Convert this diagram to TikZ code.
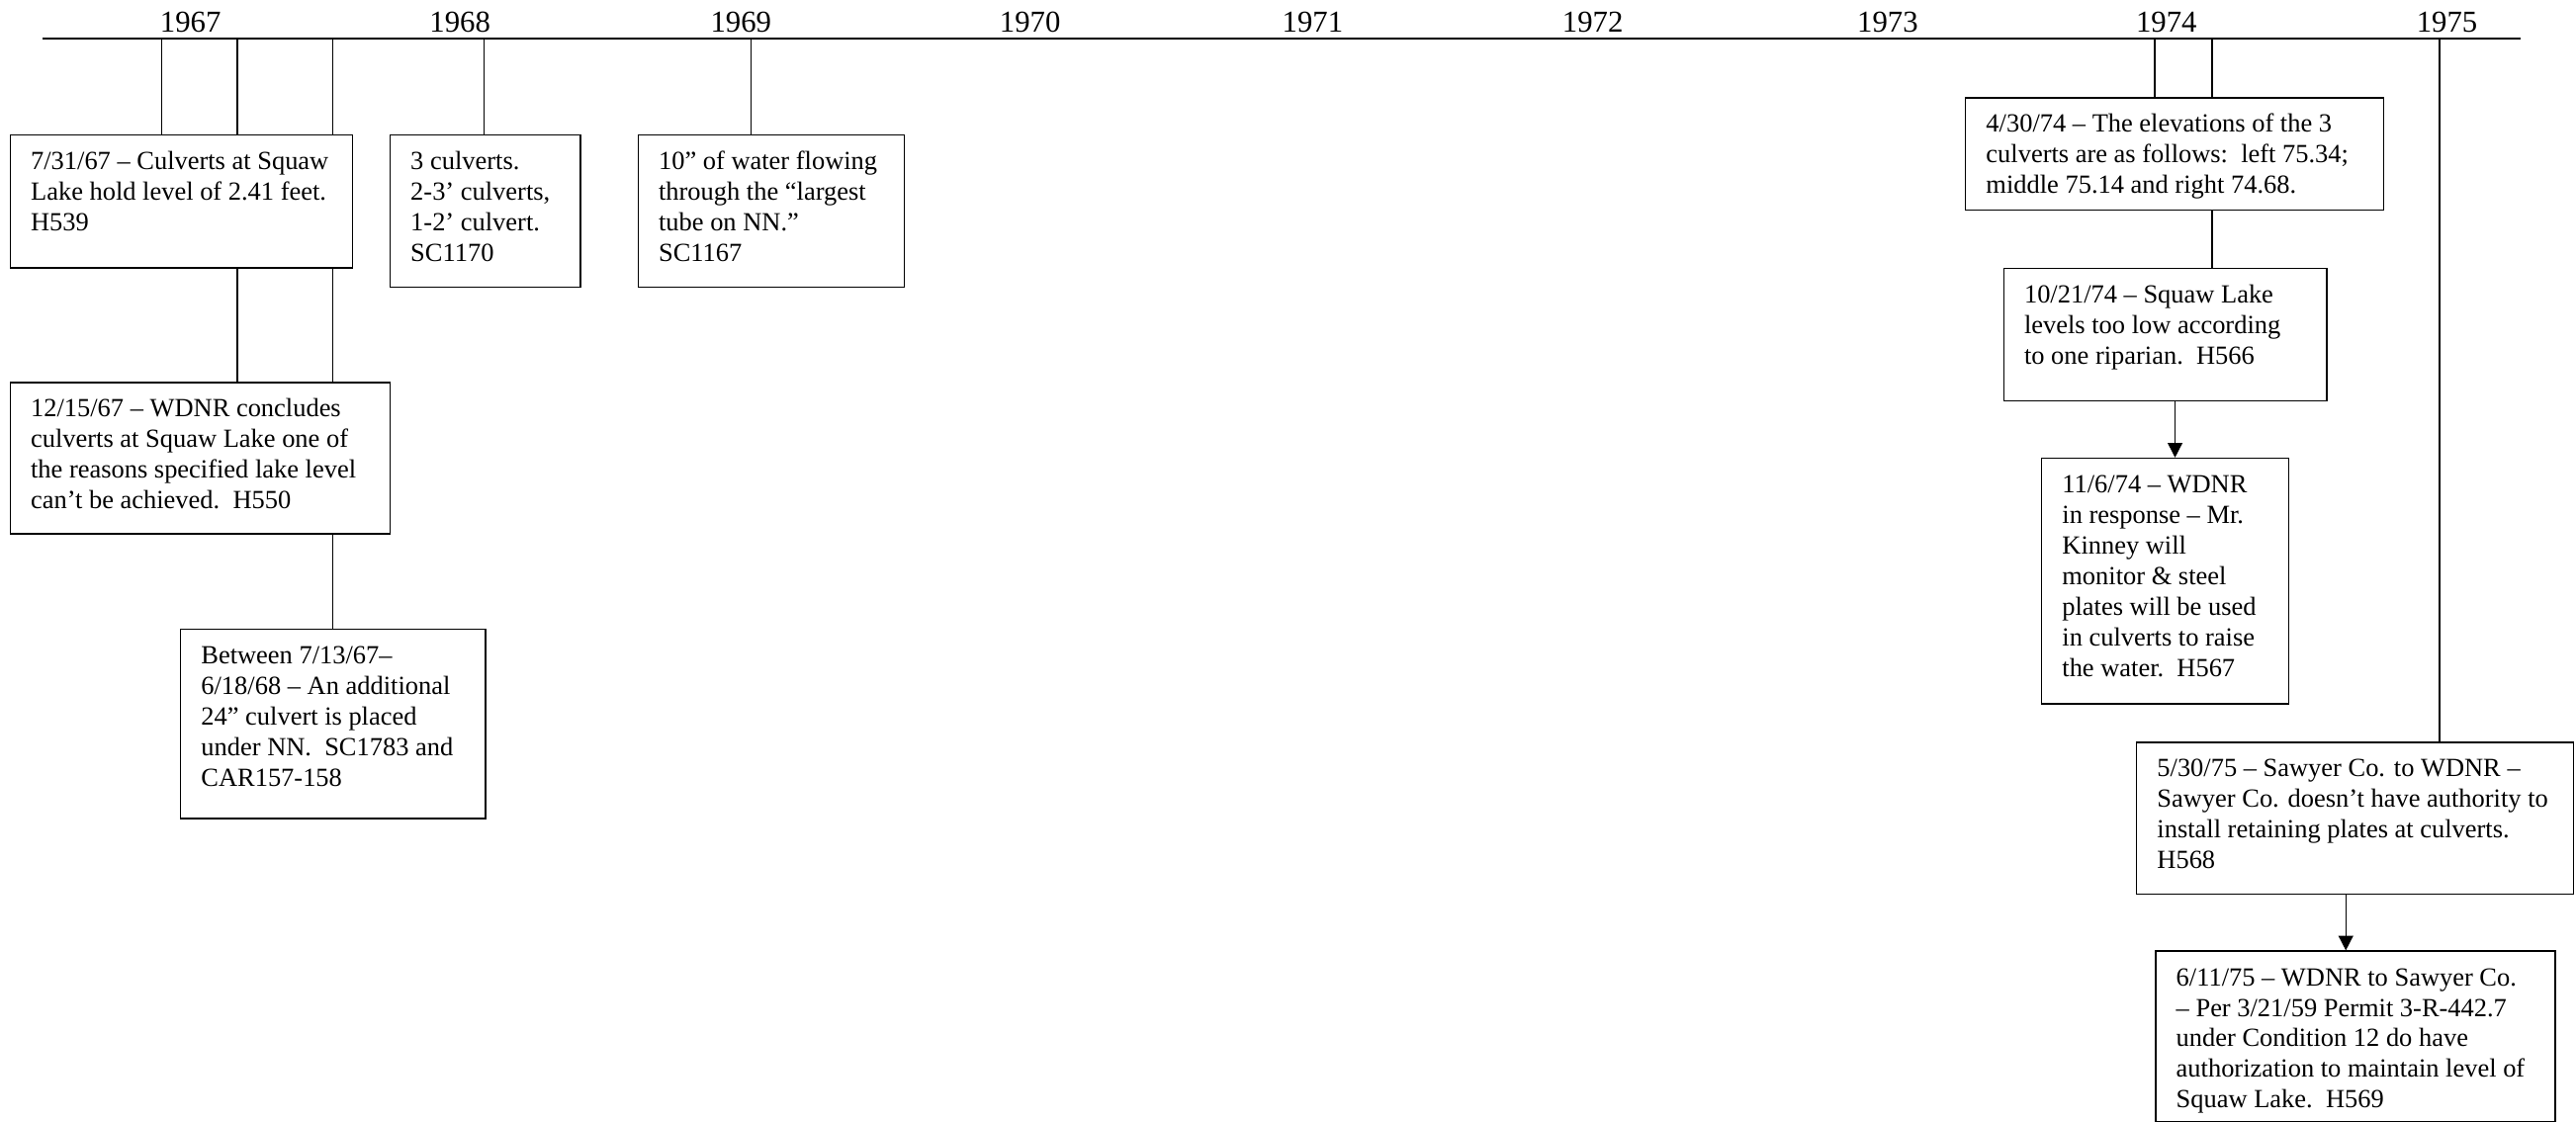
\documentclass[tikz,border=0pt]{standalone}
\usepackage{fontspec}
\setmainfont{Liberation Serif}
\usetikzlibrary{arrows.meta}
\newlength\px
\setlength\px{0.735pt}
\newcommand{\evtxt}[3]{\hbox to #1\px{\hskip12.5\px\parbox[c][#2\px][t]{\dimexpr#1\px-12.5\px\relax}{\raggedright\rule{0pt}{21\px}#3}\hss}}
\tikzset{
  event/.style = {draw, line width=0.65pt, anchor=north west, inner sep=0, font=\fontsize{11.7}{13.7}\selectfont},
  year/.style = {anchor=base, font=\fontsize{13.6}{16}\selectfont},
  link/.style = {line width=0.65pt},
  timeline/.style = {line width=0.95pt},
  arr/.style = {line width=0.65pt, -{Triangle[width=6.5pt,length=6.5pt]}}
}

\begin{document}
\begin{tikzpicture}[x=\px, y=-\px]
    \fill [white] (0,0) rectangle (1568,683);
    \useasboundingbox (0,0) rectangle (1568,683);

    % time axis
    \coordinate (tlstart) at (26,23.7);
    \coordinate (tlend) at (1534,23.7);
    \draw [timeline] (tlstart) -- (tlend);
    \foreach \yr/\x in {1967/116,1968/280,1969/451,1970/627,1971/799,1972/969.5,1973/1149,1974/1318.7,1975/1489.5}{
      \node [year] (y\yr) at (\x, 19.5) {\yr};
    }

    % 1967--1969
    \node [event] (b1) at (5.8, 81.8) {\evtxt{208.4}{81}{7/31/67 – Culverts at Squaw\\Lake hold level of 2.41 feet.\\H539}};
    \node [event] (b2) at (5.8, 232.5) {\evtxt{231.2}{92.1}{12/15/67 – WDNR concludes\\culverts at Squaw Lake one of\\the reasons specified lake level\\can’t be achieved.\ \ H550}};
    \node [event] (b3) at (109.5, 382.8) {\evtxt{185.5}{115.2}{Between 7/13/67–\\6/18/68 – An additional\\24” culvert is placed\\under NN.\ \ SC1783 and\\CAR157-158}};
    \node [event] (b4) at (237, 81.8) {\evtxt{116}{92.5}{3 culverts.\\2-3’ culverts,\\1-2’ culvert.\\SC1170}};
    \node [event] (b5) at (388, 81.8) {\evtxt{162}{92.5}{10” of water flowing\\through the “largest\\tube on NN.”\\SC1167}};

    % 1974--1975
    \node [event] (b6) at (1196, 59.2) {\evtxt{254.5}{68.4}{4/30/74 – The elevations of the 3\\culverts are as follows:\ \ left 75.34;\\middle 75.14 and right 74.68.}};
    \node [event] (b7) at (1219.2, 163.1) {\evtxt{196.6}{80.4}{10/21/74 – Squaw Lake\\levels too low according\\to one riparian.\ \ H566}};
    \node [event] (b8) at (1242.3, 278.6) {\evtxt{150.4}{149.4}{11/6/74 – WDNR\\in response – Mr.\\Kinney will\\monitor \& steel\\plates will be used\\in culverts to raise\\the water.\ \ H567}};
    \node [event] (b9) at (1300.1, 451.6) {\evtxt{265.9}{92.5}{5/30/75 – Sawyer Co. to WDNR –\\Sawyer Co. doesn’t have authority to\\install retaining plates at culverts.\\H568}};
    \node [event] (b10) at (1311.7, 578.7) {\evtxt{243.3}{104}{6/11/75 – WDNR to Sawyer Co.\\– Per 3/21/59 Permit 3-R-442.7\\under Condition 12 do have\\authorization to maintain level of\\Squaw Lake.\ \ H569}};

    % ticks
    \foreach \i/\x/\bx in {1/98.3/b1,2/144.5/b1,3/202.4/b1,4/294.7/b4,5/457/b5,6/1311.7/b6,7/1346.4/b6,8/1485/b9}{
      \coordinate (k\i) at (\x, 23.7);
      \draw [link] (k\i) -- (k\i |- \bx.north);
    }
    \draw [link] (k2 |- b1.south) -- (k2 |- b2.north);
    \draw [link] (k3 |- b1.south) -- (k3 |- b2.north);
    \draw [link] (k3 |- b2.south) -- (k3 |- b3.north);
    \draw [link] (k7 |- b6.south) -- (k7 |- b7.north);

    \draw [arr] ([xshift=6\px]b7.south) -- ([xshift=6\px]b7.south |- b8.north);
    \draw [arr] ([xshift=-5.6\px]b9.south) -- ([xshift=-5.6\px]b9.south |- b10.north);
\end{tikzpicture}
\end{document}
